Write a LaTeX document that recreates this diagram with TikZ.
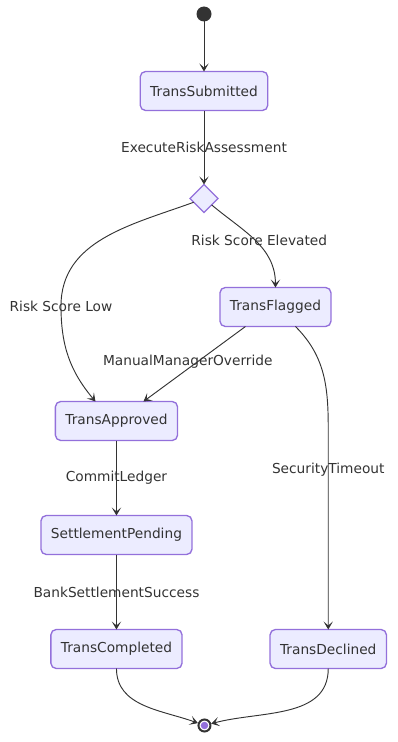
\documentclass[tikz,border=0pt]{standalone}
\usepackage{fontspec}
\setmainfont{DejaVu Sans}
\usetikzlibrary{arrows.meta,positioning,calc,shapes.geometric}
\definecolor{stfill}{HTML}{ECECFF}
\definecolor{stdraw}{HTML}{9370DB}
\definecolor{ink}{HTML}{333333}

\begin{document}
\begin{tikzpicture}[
  state/.style={draw=stdraw, fill=stfill, line width=1pt, rounded corners=4pt, align=center, minimum height=29.25pt, inner xsep=7.5pt, outer sep=0pt, font=\fontsize{10.3}{12}\selectfont, text=ink},
  decision/.style={diamond, draw=stdraw, fill=stfill, line width=1pt, minimum size=21pt, inner sep=0pt, outer sep=0pt},
  startdot/.style={circle, fill=ink, minimum size=11.25pt, inner sep=0pt, outer sep=0pt},
  enddot/.style={circle, draw=ink, line width=1.5pt, fill=white, minimum size=9pt, inner sep=0pt,
    path picture={\fill[stdraw] (path picture bounding box.center) circle (2.8pt);}},
  lbl/.style={font=\fontsize{10.3}{12}\selectfont, text=ink},
  arr/.style={-{Stealth[length=6pt,width=7pt,inset=3pt]}, draw=ink, line width=0.7pt}
]
\useasboundingbox (0,0) rectangle (297.75pt,-556.5pt);

\node[startdot] (start) at (153pt,-10.5pt) {};
\node[state, below=37.5pt of start] (sub) {TransSubmitted};
\node[decision, below=55.5pt of sub] (choice) {};
\node[state, below=56.25pt of choice, xshift=53.6pt] (flagged) {TransFlagged};
\node[state, below=56.25pt of flagged, xshift=-119.25pt] (approved) {TransApproved};
\node[state, below=56.25pt of approved] (pending) {SettlementPending};
\node[state, below=56.25pt of pending] (completed) {TransCompleted};
\node[state, right=66pt of completed] (declined) {TransDeclined};
\node[enddot, below=37.5pt of completed, xshift=66pt] (done) {};
\coordinate (lowbend) at (45.75pt,-229.5pt);

\draw[arr] (start) -- (sub);
\draw[arr] (sub) -- node[lbl] {ExecuteRiskAssessment} (choice);
\draw[arr] (choice) to[out=200, in=90] (lowbend) node[lbl] {Risk Score Low}
  to[out=-90, in=130] ($(approved.north)+(-15.75pt,0)$);
\draw[arr] (choice) to[out=-40, in=90] node[lbl, pos=0.5, xshift=3pt] {Risk Score Elevated} (flagged.north);
\draw[arr] ($(flagged.south)+(-22.5pt,0)$) -- node[lbl, xshift=-5pt, yshift=2pt] {ManualManagerOverride} ($(approved.north)+(20.25pt,0)$);
\draw[arr] ($(flagged.south)+(15pt,0)$) to[out=-45, in=90] ($(declined.north)+(0,150pt)$)
  -- node[lbl, pos=0.2] {SecurityTimeout} (declined.north);
\draw[arr] (approved) -- node[lbl] {CommitLedger} (pending);
\draw[arr] (pending) -- node[lbl] {BankSettlementSuccess} (completed);
\draw[arr] (completed) to[out=-90, in=160] (done);
\draw[arr] (declined) to[out=-90, in=15] (done);

\end{tikzpicture}
\end{document}
